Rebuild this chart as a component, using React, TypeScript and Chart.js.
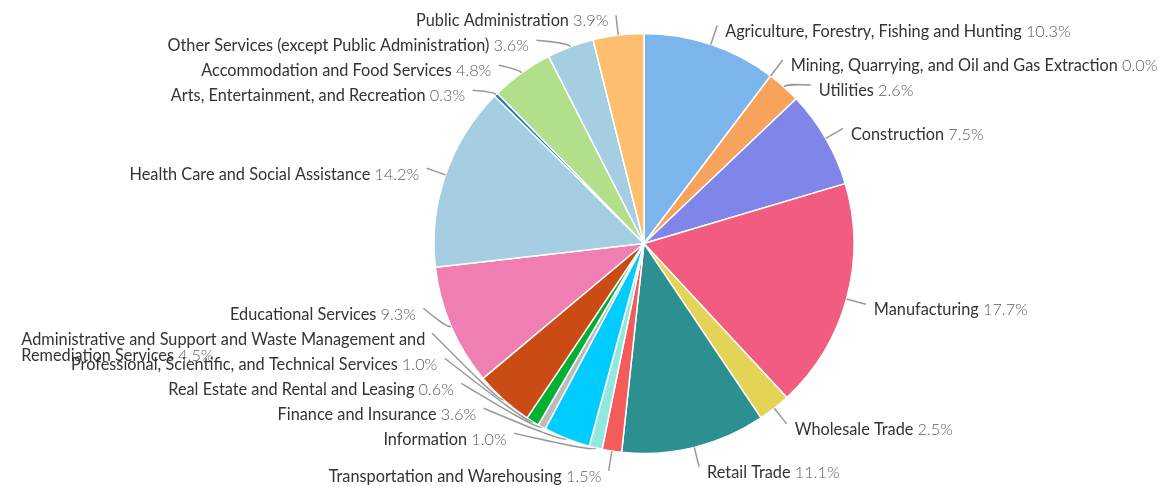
import React, { useEffect, useRef } from 'react';
import { Chart, registerables } from 'chart.js';

Chart.register(...registerables);

const categories: string[] = [
  'Agriculture, Forestry, Fishing and Hunting',
  'Mining, Quarrying, and Oil and Gas Extraction',
  'Utilities',
  'Construction',
  'Manufacturing',
  'Wholesale Trade',
  'Retail Trade',
  'Transportation and Warehousing',
  'Information',
  'Finance and Insurance',
  'Real Estate and Rental and Leasing',
  'Professional, Scientific, and Technical Services',
  'Administrative and Support and Waste Management and Remediation Services',
  'Educational Services',
  'Health Care and Social Assistance',
  'Arts, Entertainment, and Recreation',
  'Accommodation and Food Services',
  'Other Services (except Public Administration)',
  'Public Administration',
];

const shares: number[] = [10.3, 0.0, 2.6, 7.5, 17.7, 2.5, 11.1, 1.5, 1.0, 3.6, 0.6, 1.0, 4.5, 9.3, 14.2, 0.3, 4.8, 3.6, 3.9];

const sliceColors: string[] = [
  '#7cb5ec', '#434348', '#f7a35c', '#8085e9', '#f15c80', '#e4d354', '#2b908f', '#f45b5b', '#91e8e1',
  '#00ccff', '#bbbbbb', '#00b035', '#cb4b14', '#f07eb2', '#a6cee3', '#1f78b4', '#b2df8a', '#a6cee3', '#fdbf6f',
];

const FONT_FAMILY = 'Lato';
const FONT_SIZE = 16.3;
const NAME_COLOR = '#333333';
const PCT_COLOR = '#5e5e5e';
const LINE_COLOR = '#999999';
const LABEL_DISTANCE = 20;
const LABEL_SPACING = 25;

const outsideLabels = {
  id: 'outsideLabels',
  afterDatasetsDraw(chart: any) {
    const ctx: CanvasRenderingContext2D = chart.ctx;
    const meta = chart.getDatasetMeta(0);
    const W = chart.width;
    const H = chart.height;
    const items = meta.data.map((arc: any, i: number) => {
      const p = arc.getProps(['x', 'y', 'startAngle', 'endAngle', 'outerRadius'], true);
      const mid = (p.startAngle + p.endAngle) / 2;
      const cos = Math.cos(mid);
      const sin = Math.sin(mid);
      const R = p.outerRadius + LABEL_DISTANCE;
      return { i, cx: p.x, cy: p.y, r: p.outerRadius, R, cos, sin, natY: p.y + R * sin, right: cos >= 0, y: 0 };
    });
    if (!items.length) return;
    const { cy, R } = items[0];
    const top = Math.max(0, cy - R);
    const bottom = Math.min(H, cy + R);
    const S = LABEL_SPACING;
    [true, false].forEach((side) => {
      const all = items.filter((it: any) => it.right === side);
      // labels hanging right under the pie keep their natural place
      const foot = all.filter((it: any) => it.sin > 0 && Math.abs(it.cos) < 0.2);
      foot.forEach((it: any) => (it.y = it.natY));
      const col = all.filter((it: any) => !foot.includes(it)).sort((a: any, b: any) => a.natY - b.natY);
      let maxY = bottom;
      foot.forEach((f: any) => (maxY = Math.min(maxY, f.y - 1.5 * S)));
      const n = col.length;
      for (let k = 0; k < n; k++) col[k].y = k === 0 ? Math.max(col[k].natY, top) : Math.max(col[k].natY, col[k - 1].y + S);
      for (let k = n - 1; k >= 0; k--) col[k].y = Math.min(col[k].y, k === n - 1 ? maxY : col[k + 1].y - S);
      for (let k = 0; k < n; k++) col[k].y = Math.max(col[k].y, k === 0 ? top : col[k - 1].y + S);
    });

    ctx.save();
    const nameFont = `400 ${FONT_SIZE}px ${FONT_FAMILY}`;
    const pctFont = `300 ${FONT_SIZE}px ${FONT_FAMILY}`;
    items.forEach((it: any) => {
      const dirX = it.right ? 1 : -1;
      const yForX = it.y < top + 2 || it.y > bottom - 2 ? it.natY : it.y;
      const dy = yForX - it.cy;
      const dx = Math.sqrt(Math.max(0, it.R * it.R - dy * dy));
      const lx = it.cx + dirX * dx;
      const ly = it.y;
      const tx = it.cx + it.r * it.cos;
      const ty = it.cy + it.r * it.sin;
      const bx = it.cx + (it.r + 4) * it.cos;
      const by = it.cy + (it.r + 4) * it.sin;
      ctx.beginPath();
      ctx.moveTo(lx, ly);
      ctx.bezierCurveTo((lx + bx) / 2, (ly + by) / 2, bx, by, tx, ty);
      ctx.strokeStyle = LINE_COLOR;
      ctx.lineWidth = 1.5;
      ctx.stroke();

      const name: string = chart.data.labels[it.i];
      const pct = `${shares[it.i].toFixed(1)}%`;
      ctx.textBaseline = 'middle';
      ctx.textAlign = 'left';
      ctx.font = nameFont;
      const full = `${name} ${pct}`;
      const wFull = ctx.measureText(full).width;
      const cyText = ly + 6;
      const limit = it.right ? W - 2 - (lx + 8) : lx - 7 - 2;
      const lines: string[] = [];
      if (wFull > limit) {
        let cur = '';
        full.split(' ').forEach((w) => {
          const t = cur ? cur + ' ' + w : w;
          if (ctx.measureText(t).width > limit && cur) {
            lines.push(cur);
            cur = w;
          } else cur = t;
        });
        if (cur) lines.push(cur);
      } else lines.push(full);
      const blockW = Math.max(...lines.map((l) => ctx.measureText(l).width));
      const x0 = it.right ? lx + 8 : lx - 7 - blockW;
      const pctStartIdx = name.length + 1;
      let consumed = 0;
      lines.forEach((line, li) => {
        const yLine = cyText + li * 16;
        const cut = Math.max(0, Math.min(line.length, pctStartIdx - consumed));
        const namePart = line.slice(0, cut);
        const pctPart = line.slice(cut);
        ctx.font = nameFont;
        ctx.fillStyle = NAME_COLOR;
        ctx.fillText(namePart, x0, yLine);
        const wn = ctx.measureText(namePart).width;
        if (pctPart) {
          ctx.font = pctFont;
          ctx.fillStyle = PCT_COLOR;
          ctx.fillText(pctPart, x0 + wn, yLine);
        }
        consumed += line.length + 1;
      });
    });
    ctx.restore();
  },
};

export default function App() {
  const ref = useRef<HTMLCanvasElement | null>(null);
  useEffect(() => {
    if (!ref.current) return;
    const chart = new Chart(ref.current, {
      type: 'pie',
      data: {
        labels: categories,
        datasets: [
          {
            data: shares,
            backgroundColor: sliceColors,
            borderColor: '#ffffff',
            borderWidth: 1.5,
          },
        ],
      },
      options: {
        animation: false,
        responsive: true,
        maintainAspectRatio: false,
        radius: 210,
        layout: { padding: { left: 434, right: 308, top: 33, bottom: 33 } },
        plugins: { legend: { display: false }, tooltip: { enabled: false } },
      } as any,
      plugins: [outsideLabels],
    });
    return () => chart.destroy();
  }, []);
  return (
    <div style={{ position: 'fixed', left: 0, top: 0, width: 1162, height: 487, background: '#fff' }}>
      <canvas ref={ref} />
    </div>
  );
}
